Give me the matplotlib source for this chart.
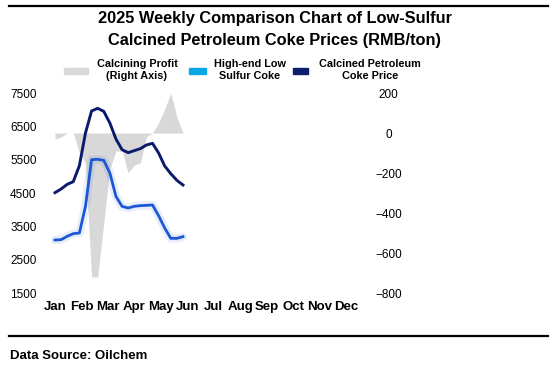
import numpy as np
import matplotlib
matplotlib.use("Agg")
import matplotlib.pyplot as plt
from matplotlib.patches import Rectangle

plt.rcParams['font.family'] = ['Liberation Sans', 'DejaVu Sans']

months = ["Jan", "Feb", "Mar", "Apr", "May", "Jun", "Jul", "Aug", "Sep", "Oct", "Nov", "Dec"]
week_index = np.arange(22)
calcined_price = [4510, 4620, 4760, 4840, 5320, 6300, 6960, 7040, 6950, 6600, 6120,
                  5800, 5710, 5770, 5830, 5940, 5990, 5700, 5310, 5080, 4880, 4740]
high_end_ls_coke = [3090, 3100, 3200, 3280, 3300, 4100, 5500, 5510, 5480, 5100, 4400,
                    4100, 4050, 4100, 4120, 4130, 4140, 3820, 3450, 3140, 3140, 3190]
calcining_profit = [-30, -20, 0, 0, -100, -150, -720, -720, -450, -180, -90,
                    -90, -200, -160, -150, -20, 0, 50, 120, 200, 80, 0]

x = week_index * 7 / 30.4

W, H = 550, 379
fig = plt.figure(figsize=(W / 100, H / 100), dpi=100)
ax = fig.add_axes([45 / W, 1 - 293 / H, (362 - 45) / W, 200 / H])
ax2 = ax.twinx()
ax.set_zorder(2)
ax.patch.set_visible(False)

fill_col = '#d8d8d8'
ax2.fill_between(x, 0, calcining_profit, color=fill_col, lw=0)
ax2.set_ylim(-800, 200)
ax2.set_yticks([-800, -600, -400, -200, 0, 200])
ax2.set_yticklabels(['\u2212800', '\u2212600', '\u2212400', '\u2212200', '0', '200'])

navy = '#0c1a6b'
blue = '#1c58d6'
ax.plot(x, high_end_ls_coke, color=blue, lw=6, alpha=0.10, solid_capstyle='round')
ax.plot(x, high_end_ls_coke, color=blue, lw=2.0, solid_joinstyle='round')
ax.plot(x, calcined_price, color=navy, lw=2.1, solid_joinstyle='round')

ax.set_ylim(1500, 7500)
ax.set_yticks([1500, 2500, 3500, 4500, 5500, 6500, 7500])
ax.set_xlim(-0.378, 11.6)
ax.set_xticks(range(12))
ax.set_xticklabels(months, fontweight='bold', fontsize=9.5)

for a in (ax, ax2):
    for s in a.spines.values():
        s.set_visible(False)
    a.tick_params(length=0)
ax.tick_params(axis='y', labelsize=8.5, pad=6)
ax.tick_params(axis='x', pad=6)
ax2.tick_params(axis='y', labelsize=8.5, pad=19)
for lbl in ax2.get_yticklabels():
    lbl.set_horizontalalignment('center')

ax.axhline(1500, color='#e6e6e6', lw=0.8, xmin=0.38, xmax=0.98)

fig.text(0.5, 1 - 18 / H, "2025 Weekly Comparison Chart of Low-Sulfur",
         ha='center', va='center', fontsize=11.8, fontweight='bold')
fig.text(0.5, 1 - 41 / H, "Calcined Petroleum Coke Prices (RMB/ton)",
         ha='center', va='center', fontsize=11.8, fontweight='bold')

# legend, placed by hand
leg_items = [
    ('#d9d9d9', 64, 24, "Calcining Profit\n(Right Axis)", 137),
    ('#0aa6e6', 189, 17, "High-end Low\nSulfur Coke", 250),
    ('#0c1f6e', 293, 15, "Calcined Petroleum\nCoke Price", 370),
]
for col, px, pw, txt, tx in leg_items:
    fig.add_artist(Rectangle((px / W, 1 - 74 / H), pw / W, 6 / H, color=col,
                             transform=fig.transFigure))
    fig.text(tx / W, 1 - 70 / H, txt, ha='center', va='center', fontsize=7.8,
             fontweight='bold', linespacing=1.15)

fig.add_artist(plt.Line2D([9 / W, 548 / W], [1 - 6 / H, 1 - 6 / H], color='black', lw=1.6))
fig.add_artist(plt.Line2D([9 / W, 548 / W], [1 - 335.5 / H, 1 - 335.5 / H], color='black', lw=1.6))
fig.text(10 / W, 1 - 356 / H, "Data Source: Oilchem", ha='left', va='center',
         fontsize=9.5, fontweight='bold')

fig.savefig("out.png", dpi=100)
